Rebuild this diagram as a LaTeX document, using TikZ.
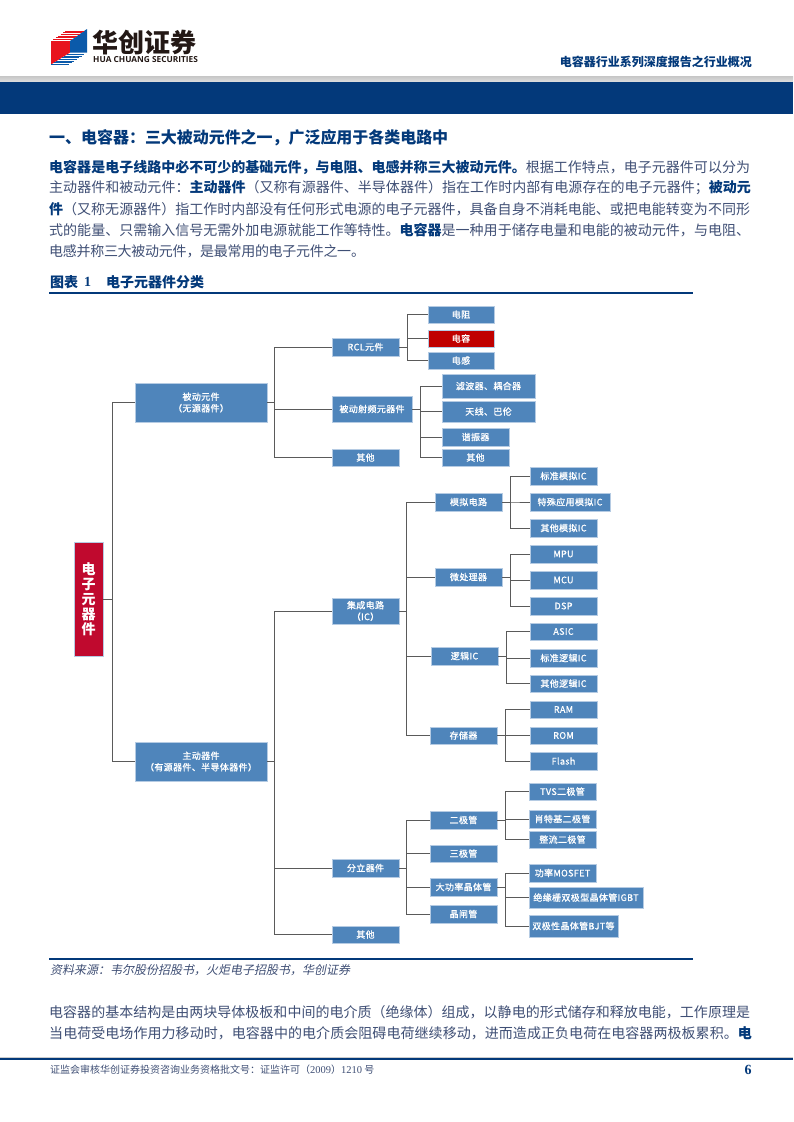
\documentclass[tikz,border=0pt]{standalone}
\usepackage{fontspec}
\usetikzlibrary{shadows}
\setmainfont{Liberation Serif}
\newfontfamily\cjk{Noto Sans CJK SC}
\newfontfamily\cjkslant[FakeSlant=0.2]{Noto Sans CJK SC}
\newfontfamily\boxfont[LetterSpace=4,FakeBold=1]{Noto Sans CJK SC}
\newfontfamily\logosans{Open Sans}
\definecolor{navy}{HTML}{03397A}
\definecolor{bodyc}{HTML}{3F4F75}
\definecolor{boxblue}{HTML}{4F85BB}
\definecolor{boxedge}{HTML}{B5CBE3}
\definecolor{rootred}{HTML}{C0092E}
\definecolor{capred}{HTML}{C00000}
\definecolor{wire}{HTML}{5A5A5A}
\definecolor{logoink}{HTML}{231815}
\definecolor{logored}{HTML}{E8141E}
\definecolor{logoblue}{HTML}{0B5AAA}
\newcommand{\B}[1]{{\bfseries\color{navy}#1}}
% justified single line of the given width
\newcommand{\jl}[1]{\XeTeXlinebreaklocale "zh"\XeTeXlinebreakskip=0pt plus 4pt minus .8pt\tolerance=10000\hbadness=10000\hfuzz=20pt\emergencystretch=0pt\parfillskip=0pt\parindent=0pt\relax #1\par}
\tikzset{
  box/.style={draw=boxedge,line width=.5pt,fill=boxblue,text=white,inner sep=0pt,align=center,font=\fontsize{9}{11.5}\selectfont\boxfont,
    drop shadow={shadow xshift=.5pt,shadow yshift=-.7pt,opacity=.25,fill=gray}},
  redbox/.style={box,fill=capred},
  rootbox/.style={box,fill=rootred,font=\fontsize{14}{15}\selectfont\cjk\bfseries},
  wireline/.style={draw=wire,line width=.9pt},
  txt/.style={inner sep=0pt,anchor=west,text=bodyc},
  para/.style={inner sep=0pt,anchor=west,text=bodyc,text width=#1,font=\fontsize{14}{16}\selectfont\cjk},
  rule/.style={draw=navy,line width=2pt},
}
\newcommand{\bx}[7][box]{\node[#1,minimum width={(#4-#2)*1pt},minimum height={(#5-#3)*1pt}] (#6) at ({(#2+#4)/2},{(#3+#5)/2}) {#7};}
\newcommand{\conn}[3]{\draw[wireline] (#1.east) -- (#3,0 |- #1.east) |- (#2.west);}
\begin{document}
\begin{tikzpicture}[x=1pt,y=-1pt]
\useasboundingbox (0,0) rectangle (793,1122);
% page furniture
\fill[white] (0,0) rectangle (793,1122);
\shade[top color=gray!45,bottom color=gray!25] (0,76) rectangle (793,82);
\fill[navy] (0,82) rectangle (793,114);
% logo
\fill[logored] (51,41) -- (70,41) -- (70,52.5) -- (51,64.5) -- cycle;
\fill[logoblue] (70,41) -- (87,29) -- (87,52.5) -- (70,52.5) -- cycle;
\foreach \t in {0,.14,.28,.42,.56,.7,.84}{
  \draw[logored,line width=.7pt] ({51+17*\t},{41-12*\t}) -- ({70+17*\t},{41-12*\t});
  \draw[logoblue,line width=.7pt] ({51+19*\t},{64.5-12*\t}) -- ({69+18*\t},{64.5-12*\t});
}
\node[inner sep=0pt,anchor=west,text=logoink,font=\fontsize{26}{28}\selectfont\cjk\bfseries] (logocn) at (92.5,43) {华创证券};
\node[inner sep=0pt,anchor=west,text=logoink,font=\fontsize{8.3}{10}\selectfont\logosans\bfseries] (logoen) at (93,59.5) {HUA CHUANG SECURITIES};
\node[inner sep=0pt,anchor=east,text=navy,font=\fontsize{12}{14}\selectfont\cjk\bfseries] (hdr) at (752,62) {电容器行业系列深度报告之行业概况};
% heading
\node[inner sep=0pt,anchor=west,text=navy,text width=399pt,font=\fontsize{16}{18}\selectfont\cjk\bfseries] (h1) at (49,138) {\jl{一、电容器^^^^ff1a三大被动元件之一^^^^ff0c广泛应用于各类电路中}};
% body
\node[para=701pt] (p1) at (49,167) {\jl{\B{电容器是电子线路中必不可少的基础元件^^^^ff0c与电阻、电感并称三大被动元件。}根据工作特点^^^^ff0c电子元器件可以分为}};
\node[para=702pt] (p2) at (49,188) {\jl{主动器件和被动元件^^^^ff1a\B{主动器件}^^^^ff08又称有源器件、半导体器件^^^^ff09指在工作时内部有电源存在的电子元器件^^^^ff1b\B{被动元}}};
\node[para=701pt] (p3) at (49,209) {\jl{\B{件}^^^^ff08又称无源器件^^^^ff09指工作时内部没有任何形式电源的电子元器件^^^^ff0c具备自身不消耗电能、或把电能转变为不同形}};
\node[para=701pt] (p4) at (49,230) {\jl{式的能量、只需输入信号无需外加电源就能工作等特性。\B{电容器}是一种用于储存电量和电能的被动元件^^^^ff0c与电阻、}};
\node[para=316pt] (p5) at (49,251) {\jl{电感并称三大被动元件^^^^ff0c是最常用的电子元件之一。}};
% figure title
\node[inner sep=0pt,anchor=west,text=navy,font=\fontsize{14}{16}\selectfont\cjk\bfseries] (ft1) at (50,282) {图表};
\node[inner sep=0pt,anchor=west,text=navy,font=\fontsize{14}{16}\selectfont\bfseries] (ft2) at (84,282) {1};
\node[inner sep=0pt,anchor=west,text=navy,font=\fontsize{14}{16}\selectfont\cjk\bfseries] (ft3) at (106,282) {电子元器件分类};
\draw[rule] (49,293) -- (693,293);
\draw[rule] (49,959) -- (693,959);
% tree: level 0-1
\bx[rootbox]{74}{542}{103}{656}{root}{电\\子\\元\\器\\件}
\bx{135}{383}{267}{422}{pas}{被动元件\\^^^^ff08无源器件^^^^ff09}
\bx{135}{742}{267}{781}{act}{主动器件\\^^^^ff08有源器件、半导体器件^^^^ff09}
% passive
\bx{332}{338}{399}{356}{rcl}{RCL元件}
\bx{332}{396}{412}{422}{rf}{被动射频元器件}
\bx{332}{449}{399}{466}{po}{其他}
\bx{428}{306}{494}{323}{res}{电阻}
\bx[redbox]{428}{330}{494}{347}{cap}{电容}
\bx{428}{352}{494}{369}{ind}{电感}
\bx{442}{374}{535}{398}{flt}{滤波器、耦合器}
\bx{442}{401}{535}{422}{ant}{天线、巴伦}
\bx{442}{428}{509}{446}{osc}{谐振器}
\bx{442}{449}{509}{466}{rfo}{其他}
% active
\bx{332}{598}{399}{624}{ic}{集成电路\\^^^^ff08IC^^^^ff09}
\bx{332}{859}{399}{877}{disc}{分立器件}
\bx{332}{926}{399}{943}{ao}{其他}
\bx{435}{493}{502}{511}{ana}{模拟电路}
\bx{435}{568}{502}{586}{mpr}{微处理器}
\bx{431}{647}{498}{665}{log}{逻辑IC}
\bx{430}{727}{497}{744}{mem}{存储器}
\bx{530}{467}{597}{485}{a1}{标准模拟IC}
\bx{530}{493}{610}{511}{a2}{特殊应用模拟IC}
\bx{530}{519}{597}{537}{a3}{其他模拟IC}
\bx{530}{545}{597}{563}{m1}{MPU}
\bx{530}{571}{597}{589}{m2}{MCU}
\bx{530}{597}{597}{615}{m3}{DSP}
\bx{530}{623}{597}{640}{l1}{ASIC}
\bx{530}{649}{597}{667}{l2}{标准逻辑IC}
\bx{530}{675}{597}{692}{l3}{其他逻辑IC}
\bx{530}{701}{597}{718}{s1}{RAM}
\bx{530}{727}{597}{744}{s2}{ROM}
\bx{530}{752}{597}{770}{s3}{Flash}
\bx{430}{811}{497}{829}{di}{二极管}
\bx{430}{845}{497}{862}{tri}{三极管}
\bx{430}{878}{497}{896}{pow}{大功率晶体管}
\bx{430}{905}{497}{923}{thy}{晶闸管}
\bx{529}{783}{596}{800}{d1}{TVS二极管}
\bx{529}{810}{596}{828}{d2}{肖特基二极管}
\bx{529}{831}{596}{848}{d3}{整流二极管}
\bx{529}{864}{596}{882}{p1b}{功率MOSFET}
\bx{529}{887}{643}{908}{p2b}{绝缘栅双极型晶体管IGBT}
\bx{529}{915}{618}{937}{p3b}{双极性晶体管BJT等}
% connectors
\foreach \a/\b/\c in {root/pas/112,root/act/112,
  pas/rcl/274.5,pas/rf/274.5,pas/po/274.5,
  rcl/res/407,rcl/cap/407,rcl/ind/407,
  rf/flt/420,rf/ant/420,rf/osc/420,rf/rfo/420,
  act/ic/274.5,act/disc/274.5,act/ao/274.5,
  ic/ana/406.5,ic/mpr/406.5,ic/log/406.5,ic/mem/406.5,
  ana/a1/510,ana/a2/510,ana/a3/510,
  mpr/m1/510,mpr/m2/510,mpr/m3/510,
  log/l1/506,log/l2/506,log/l3/506,
  mem/s1/505,mem/s2/505,mem/s3/505,
  disc/di/406.5,disc/tri/406.5,disc/pow/406.5,disc/thy/406.5,
  di/d1/505,di/d2/505,di/d3/505,
  pow/p1b/505,pow/p2b/505,pow/p3b/505}{
  \conn{\a}{\b}{\c}
}
% source and lower text
\node[inner sep=0pt,anchor=west,text=bodyc,font=\fontsize{12}{14}\selectfont\cjkslant] (src) at (50,970) {资料来源^^^^ff1a韦尔股份招股书^^^^ff0c火炬电子招股书^^^^ff0c华创证券};
\node[para=701pt] (q1) at (49,1012) {\jl{电容器的基本结构是由两块导体极板和中间的电介质^^^^ff08绝缘体^^^^ff09组成^^^^ff0c以静电的形式储存和释放电能^^^^ff0c工作原理是}};
\node[para=703pt] (q2) at (49,1033) {\jl{当电荷受电场作用力移动时^^^^ff0c电容器中的电介质会阻碍电荷继续移动^^^^ff0c进而造成正负电荷在电容器两极板累积。\B{电}}};
\fill[gray!40] (0,1056.5) rectangle (793,1058);
\fill[navy] (0,1058) rectangle (793,1059.5);
\node[inner sep=0pt,anchor=west,text=bodyc,font=\fontsize{10}{12}\selectfont\cjk] (foot) at (50,1070) {证监会审核华创证券投资咨询业务资格批文号^^^^ff1a证监许可^^^^ff08{\fontsize{10.5}{12}\selectfont\rmfamily 2009}^^^^ff09{\fontsize{10.5}{12}\selectfont\rmfamily 1210} 号};
\node[inner sep=0pt,anchor=center,text=navy,font=\fontsize{14}{16}\selectfont\bfseries] (pg) at (748,1070) {6};
\end{tikzpicture}
\end{document}
